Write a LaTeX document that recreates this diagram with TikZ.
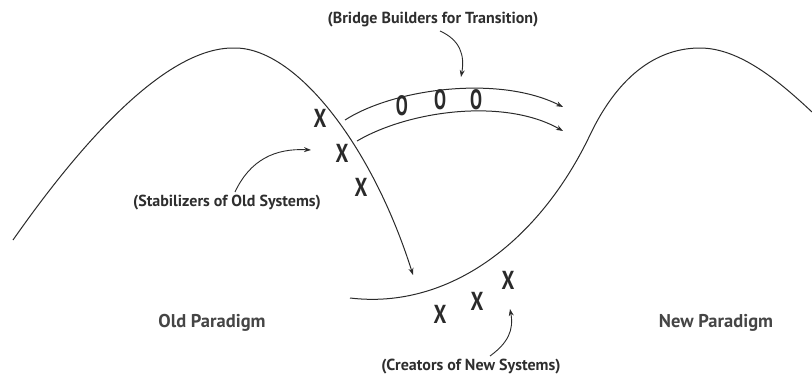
\documentclass[tikz,border=0pt]{standalone}
\usepackage{fontspec}
\setmainfont{PT Sans}
\usetikzlibrary{arrows.meta}
\definecolor{ink}{HTML}{2A2A2A}
\definecolor{txt}{HTML}{2E2E2E}
\definecolor{soft}{HTML}{454545}
\tikzset{
  curve/.style={draw=ink, line width=1pt},
  tip/.style={-{Stealth[length=7pt,width=5pt]}},
  note/.style={text=txt, font=\bfseries\fontsize{16}{17}\selectfont, inner sep=0pt},
  para/.style={text=soft, font=\bfseries\fontsize{18.5}{19}\selectfont, inner sep=0pt},
  mark x/.style={text=ink, font=\bfseries\fontsize{26}{26}\selectfont, inner sep=0pt},
  mark o/.style={text=ink, font=\bfseries\fontsize{28}{28}\selectfont, inner sep=0pt},
}
\begin{document}
\begin{tikzpicture}[x=1pt,y=-1pt]
\useasboundingbox (0,0) rectangle (812,378);
% old paradigm curve
\draw[curve,tip] (13,240) .. controls (90,130) and (170,48) .. (233,48)
  .. controls (295,46) and (372,145) .. (413,275);
% new paradigm curve
\draw[curve] (350,298) .. controls (450,310) and (540,240) .. (590,135)
  .. controls (620,72) and (660,48) .. (700,48)
  .. controls (740,48) and (780,82) .. (812,112);
% bridge arrows
\draw[curve,tip] (345,120) .. controls (395,88) and (500,75) .. (563,107);
\draw[curve,tip] (357,141) .. controls (410,110) and (505,98) .. (563,131);
% O marks
\node[mark o] (o1) at (402,106) {\scalebox{0.64}[1]{O}};
\node[mark o] (o2) at (440,100) {\scalebox{0.64}[1]{O}};
\node[mark o] (o3) at (476,100) {\scalebox{0.64}[1]{O}};
% X marks
\node[mark x] (x1) at (320,118) {\scalebox{0.78}[1]{X}};
\node[mark x] (x2) at (342,153) {\scalebox{0.78}[1]{X}};
\node[mark x] (x3) at (361,187) {\scalebox{0.78}[1]{X}};
\node[mark x] (x4) at (440,314) {\scalebox{0.78}[1]{X}};
\node[mark x] (x5) at (477,301) {\scalebox{0.78}[1]{X}};
\node[mark x] (x6) at (508,280) {\scalebox{0.78}[1]{X}};
% labels
\node[note] (bb) at (433,20) {(Bridge Builders for Transition)};
\node[note] (st) at (227,203) {(Stabilizers of Old Systems)};
\node[note] (cr) at (471,367) {(Creators of New Systems)};
\node[para] (op) at (212,323) {Old Paradigm};
\node[para] (np) at (716,323) {New Paradigm};
% label pointers
\coordinate (bbs) at (440,31);
\coordinate (bbe) at (461,77);
\coordinate (sts) at (235,192);
\coordinate (ste) at (311,150);
\coordinate (crs) at (490,356);
\coordinate (cre) at (510,309);
\draw[curve,line width=0.9pt,tip] (bbs) .. controls (460,40) and (465,55) .. (bbe);
\draw[curve,line width=0.9pt,tip] (sts) .. controls (250,160) and (275,148) .. (ste);
\draw[curve,line width=0.9pt,tip] (crs) .. controls (508,343) and (514,330) .. (cre);
\end{tikzpicture}
\end{document}
